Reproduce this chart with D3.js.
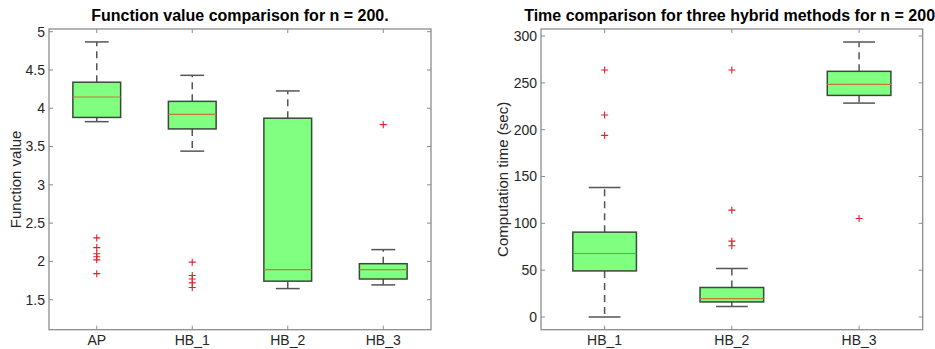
<!DOCTYPE html>
<html><head><meta charset="utf-8">
<script src="https://cdn.jsdelivr.net/npm/d3@7"></script>
<style>
html,body{margin:0;padding:0;background:#fff;}
svg{display:block;font-family:"Liberation Sans",Arial,sans-serif;}
</style></head>
<body><svg id="c" width="935" height="349"></svg>
<script>
// ---- Left chart data ----
const leftCategories = ["AP","HB_1","HB_2","HB_3"];
const leftLowerWhisker = [3.825, 3.44, 1.645, 1.693];
const leftQ1 = [3.88, 3.73, 1.742, 1.77];
const leftMedian = [4.147, 3.92, 1.893, 1.893];
const leftQ3 = [4.34, 4.09, 3.87, 1.97];
const leftUpperWhisker = [4.866, 4.43, 4.226, 2.154];
const leftOutliers = [[2.307, 2.18, 2.10, 2.06, 2.02, 1.84],[1.99, 1.815, 1.77, 1.72, 1.66],[],[3.786]];
const leftTicks = [1.5, 2, 2.5, 3, 3.5, 4, 4.5, 5];
const leftTickLabels = ["1.5","2","2.5","3","3.5","4","4.5","5"];

// ---- Right chart data ----
const rightCategories = ["HB_1","HB_2","HB_3"];
const rightLowerWhisker = [0.1, 11.2, 228.4];
const rightQ1 = [49.2, 16.1, 236.6];
const rightMedian = [67.8, 19.7, 248.4];
const rightQ3 = [90.6, 31.5, 262.3];
const rightUpperWhisker = [138.3, 51.8, 293.6];
const rightOutliers = [[263.7, 215.6, 193.9],[263.7, 114.1, 81, 76],[105.2]];
const rightTicks = [0, 50, 100, 150, 200, 250, 300];
const rightTickLabels = ["0","50","100","150","200","250","300"];

const svg = d3.select("#c");

function panel(o){
  const g = svg.append("g");
  const n = o.cats.length;
  const x = d3.scaleLinear().domain([0.5, n + 0.5]).range([o.x0, o.x1]);
  const y = d3.scaleLinear().domain(o.ydom).range([o.y1, o.y0]);
  const unit = x(1) - x(0);
  const idx = d3.range(n);

  // frame
  g.append("rect").attr("x", o.x0).attr("y", o.y0).attr("width", o.x1 - o.x0).attr("height", o.y1 - o.y0)
    .attr("fill", "none").attr("stroke", "#8c8c8c").attr("stroke-width", 1.3);

  // y ticks (left and right, inward)
  o.ticks.forEach((t, i) => {
    const yy = y(t);
    g.append("line").attr("x1", o.x0).attr("x2", o.x0 + 4).attr("y1", yy).attr("y2", yy).attr("stroke", "#8c8c8c");
    g.append("line").attr("x1", o.x1).attr("x2", o.x1 - 4).attr("y1", yy).attr("y2", yy).attr("stroke", "#8c8c8c");
    g.append("text").attr("x", o.x0 - 4).attr("y", yy).attr("dy", "0.35em").attr("text-anchor", "end")
      .attr("font-size", 14).attr("fill", "#262626").text(o.tickLabels[i]);
  });
  // x ticks
  idx.forEach(i => {
    const xx = x(i + 1);
    g.append("line").attr("x1", xx).attr("x2", xx).attr("y1", o.y1).attr("y2", o.y1 - 4).attr("stroke", "#8c8c8c");
    g.append("line").attr("x1", xx).attr("x2", xx).attr("y1", o.y0).attr("y2", o.y0 + 4).attr("stroke", "#8c8c8c");
    g.append("text").attr("x", xx).attr("y", o.y1 + 15.5).attr("text-anchor", "middle")
      .attr("font-size", 14).attr("fill", "#262626").text(o.cats[i]);
  });

  // whiskers
  const wc = "#555";
  idx.forEach(i => {
    const xx = x(i + 1);
    g.append("line").attr("x1", xx).attr("x2", xx).attr("y1", y(o.q3[i])).attr("y2", y(o.uw[i]))
      .attr("stroke", wc).attr("stroke-width", 1.5).attr("stroke-dasharray", "7,5");
    g.append("line").attr("x1", xx).attr("x2", xx).attr("y1", y(o.q1[i])).attr("y2", y(o.lw[i]))
      .attr("stroke", wc).attr("stroke-width", 1.5).attr("stroke-dasharray", "7,5");
    g.append("line").attr("x1", x(i + 1 - 0.125)).attr("x2", x(i + 1 + 0.125)).attr("y1", y(o.uw[i])).attr("y2", y(o.uw[i]))
      .attr("stroke", wc).attr("stroke-width", 1.5);
    g.append("line").attr("x1", x(i + 1 - 0.125)).attr("x2", x(i + 1 + 0.125)).attr("y1", y(o.lw[i])).attr("y2", y(o.lw[i]))
      .attr("stroke", wc).attr("stroke-width", 1.5);
  });
  // boxes
  g.selectAll("rect.box").data(idx).enter().append("rect").attr("class", "box")
    .attr("x", i => x(i + 1 - 0.25)).attr("width", unit * 0.5)
    .attr("y", i => y(o.q3[i])).attr("height", i => y(o.q1[i]) - y(o.q3[i]))
    .attr("fill", "#80ff80").attr("stroke", "#3a4a3a").attr("stroke-width", 1.5);
  // medians
  g.selectAll("line.med").data(idx).enter().append("line").attr("class", "med")
    .attr("x1", i => x(i + 1 - 0.25)).attr("x2", i => x(i + 1 + 0.25))
    .attr("y1", i => y(o.med[i])).attr("y2", i => y(o.med[i]))
    .attr("stroke", "#c07a3a").attr("stroke-width", 1.2);
  // outliers
  idx.forEach(i => {
    o.out[i].forEach(v => {
      const xx = x(i + 1), yy = y(v);
      g.append("path").attr("d", `M${xx - 3.5},${yy}H${xx + 3.5}M${xx},${yy - 3.5}V${yy + 3.5}`)
        .attr("stroke", "#e0202a").attr("stroke-width", 1.1).attr("fill", "none");
    });
  });

  // title
  g.append("text").attr("x", (o.x0 + o.x1) / 2).attr("y", o.y0 - 8).attr("text-anchor", "middle")
    .attr("font-size", 16).attr("font-weight", "bold").attr("fill", "#000").text(o.title);
  // y label
  g.append("text").attr("transform", `translate(${o.ylx},${(o.y0 + o.y1) / 2}) rotate(-90)`)
    .attr("text-anchor", "middle").attr("font-size", 15).attr("fill", "#262626").text(o.ylabel);
}

panel({cats: leftCategories, lw: leftLowerWhisker, q1: leftQ1, med: leftMedian, q3: leftQ3, uw: leftUpperWhisker,
  out: leftOutliers, ticks: leftTicks, tickLabels: leftTickLabels,
  x0: 49, x1: 431, y0: 29, y1: 329.7, ydom: [1.108, 5.035],
  title: "Function value comparison for n = 200.", ylabel: "Function value", ylx: 21});

panel({cats: rightCategories, lw: rightLowerWhisker, q1: rightQ1, med: rightMedian, q3: rightQ3, uw: rightUpperWhisker,
  out: rightOutliers, ticks: rightTicks, tickLabels: rightTickLabels,
  x0: 541, x1: 922.7, y0: 29, y1: 329.7, ydom: [-13.56, 307.5],
  title: "Time comparison for three hybrid methods for n = 200.", ylabel: "Computation time (sec)", ylx: 508});
</script></body></html>
